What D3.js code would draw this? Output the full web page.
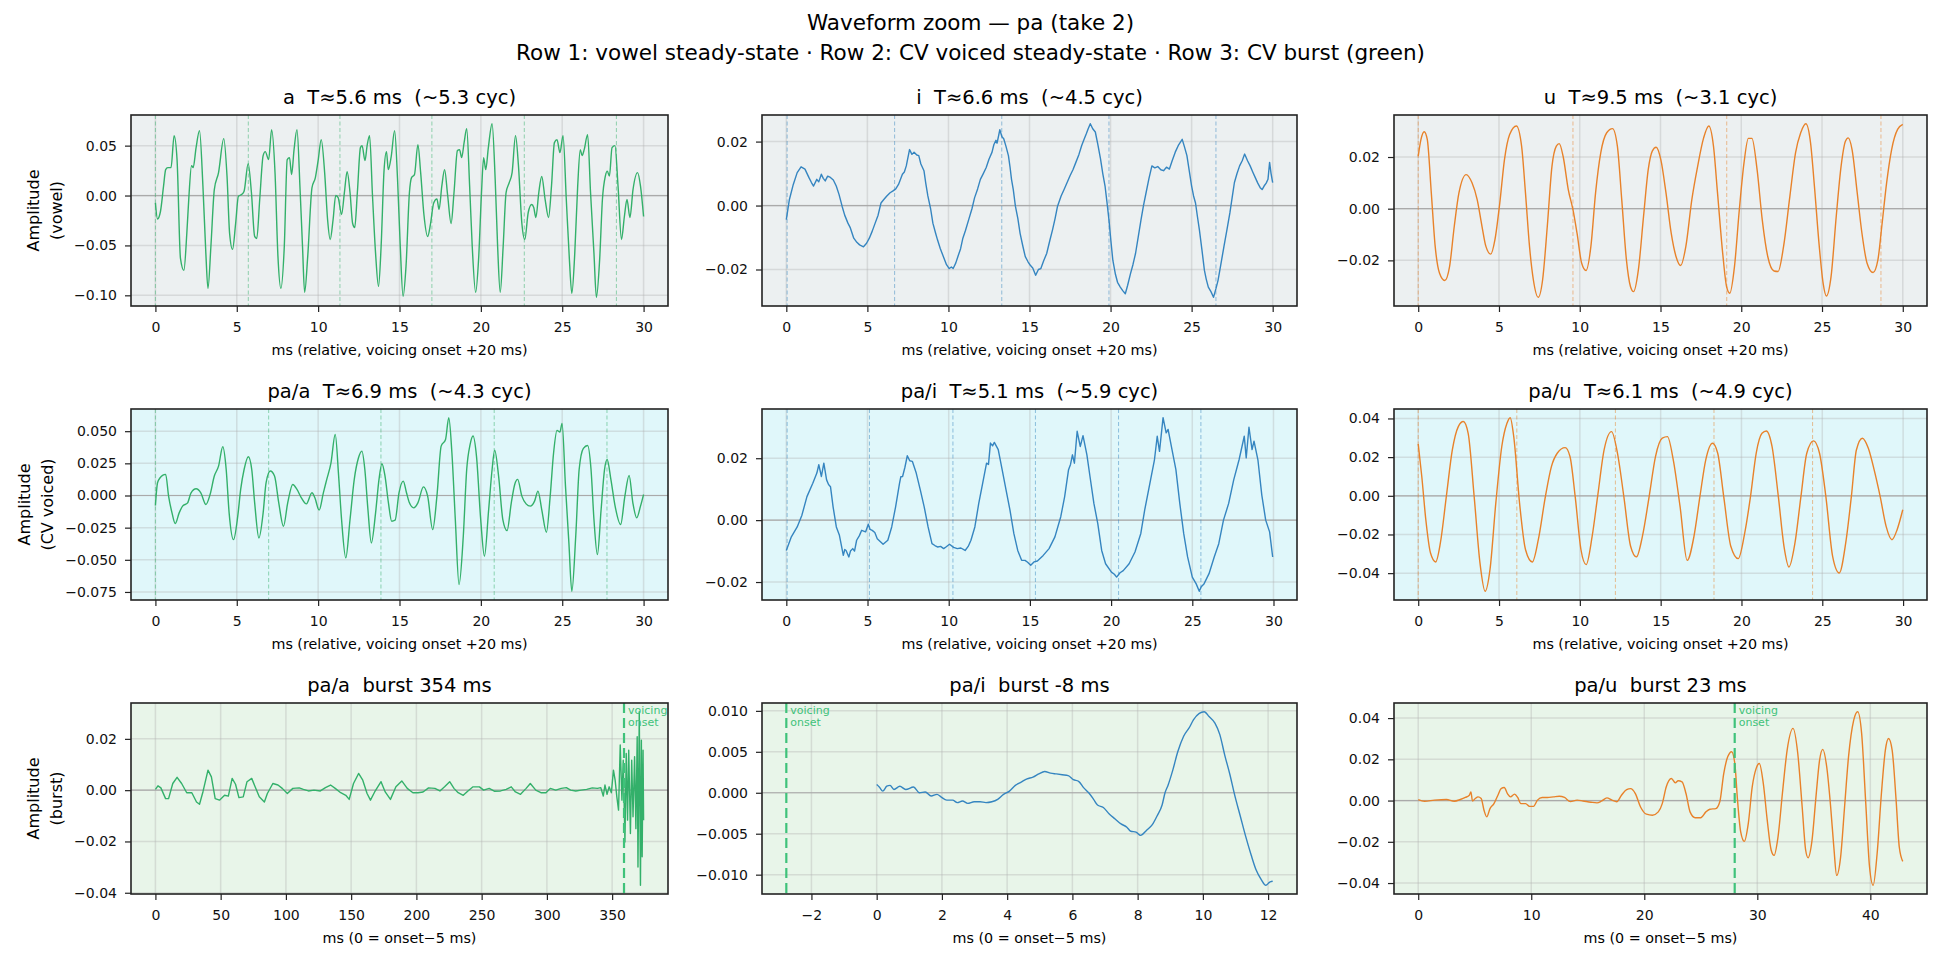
<!DOCTYPE html>
<html>
<head>
<meta charset="utf-8">
<script src="https://cdn.jsdelivr.net/npm/d3@7"></script>
<style>
  body { margin: 0; background: #fff; }
  svg { display: block; font-family: "DejaVu Sans", sans-serif; }
</style>
</head>
<body>
<svg id="chart" width="1941" height="962"></svg>
<script>
// Waveform samples: [ms, amplitude]
const waveA = [[0,-0.0074],[0.13,-0.0235],[0.31,-0.016],[0.5,0.0094],[0.63,0.026],[0.76,0.028],[0.96,0.028],[1.15,0.060],[1.33,0.036],[1.54,-0.063],[1.75,-0.075],[1.93,-0.038],[2.06,-0.0007],[2.22,0.030],[2.32,0.028],[2.5,0.048],[2.71,0.065],[2.92,0.0094],[3.1,-0.058],[3.23,-0.093],[3.41,-0.051],[3.62,0.006],[3.88,0.023],[4.2,0.057],[4.4,0.0195],[4.56,-0.038],[4.74,-0.054],[4.93,-0.028],[5.1,-0.0007],[5.3,0.001],[5.45,0.0044],[5.7,0.032],[5.9,0.003],[6.1,-0.041],[6.23,-0.043],[6.41,-0.004],[6.62,0.040],[6.75,0.044],[6.96,0.036],[7.14,0.066],[7.35,0.023],[7.53,-0.061],[7.71,-0.093],[7.92,-0.051],[8.1,0.036],[8.24,0.038],[8.37,0.021],[8.52,0.046],[8.7,0.066],[8.89,0.006],[9.04,-0.051],[9.17,-0.097],[9.36,-0.061],[9.62,0.0077],[9.83,0.018],[10.0,0.035],[10.19,0.056],[10.4,0.023],[10.58,-0.024],[10.74,-0.044],[10.92,-0.024],[11.08,0],[11.23,-0.002],[11.44,-0.019],[11.62,0.004],[11.78,0.024],[11.96,0.003],[12.12,-0.028],[12.25,-0.032],[12.41,0.003],[12.6,0.048],[12.7,0.050],[12.88,0.035],[13.01,0.050],[13.16,0.060],[13.34,0],[13.53,-0.058],[13.71,-0.091],[13.87,-0.051],[14.05,0.025],[14.2,0.044],[14.31,0.026],[14.49,0.039],[14.7,0.065],[14.88,0.016],[15.04,-0.048],[15.22,-0.101],[15.4,-0.071],[15.61,0.003],[15.74,0.018],[15.92,0.021],[16.13,0.051],[16.3,0.023],[16.5,-0.019],[16.73,-0.041],[16.9,-0.029],[17.1,-0.0074],[17.3,-0.0034],[17.43,-0.014],[17.6,0.0094],[17.77,0.026],[17.96,0],[18.17,-0.028],[18.35,0.003],[18.56,0.045],[18.69,0.046],[18.82,0.038],[18.97,0.053],[19.13,0.067],[19.31,0.0094],[19.47,-0.051],[19.68,-0.097],[19.86,-0.064],[20.04,0.003],[20.17,0.038],[20.3,0.026],[20.46,0.048],[20.69,0.072],[20.88,0.016],[21.03,-0.051],[21.19,-0.097],[21.37,-0.051],[21.55,0.003],[21.74,0.0128],[21.92,0.023],[22.13,0.060],[22.31,0.030],[22.52,-0.028],[22.7,-0.044],[22.91,-0.017],[23.12,-0.009],[23.25,-0.012],[23.38,-0.022],[23.56,0.003],[23.74,0.019],[23.95,-0.004],[24.16,-0.022],[24.34,0.0094],[24.52,0.053],[24.68,0.056],[24.86,0.043],[25.05,0.060],[25.25,-0.004],[25.44,-0.064],[25.59,-0.098],[25.77,-0.058],[25.95,0.0094],[26.11,0.046],[26.22,0.040],[26.35,0.046],[26.56,0.061],[26.74,0.003],[26.95,-0.058],[27.1,-0.102],[27.3,-0.064],[27.47,-0.004],[27.65,0.0195],[27.77,0.0245],[27.9,0.0195],[28.06,0.048],[28.24,0.050],[28.43,0.0094],[28.64,-0.044],[28.82,-0.021],[28.98,-0.004],[29.16,-0.022],[29.35,0.006],[29.63,0.023],[29.81,0.0094],[30.0,-0.021]];

const waveI = [[0,-0.0044],[0.19,0.0019],[0.43,0.0066],[0.67,0.0103],[0.91,0.0121],[1.15,0.0114],[1.39,0.0088],[1.55,0.0072],[1.68,0.0061],[1.88,0.0082],[2.0,0.0074],[2.16,0.0098],[2.28,0.0085],[2.4,0.0077],[2.55,0.0092],[2.72,0.0088],[2.9,0.0080],[3.08,0.0061],[3.25,0.0035],[3.44,-0.0002],[3.6,-0.0030],[3.8,-0.0055],[3.95,-0.0070],[4.16,-0.0102],[4.35,-0.0115],[4.52,-0.0123],[4.76,-0.0129],[4.95,-0.0118],[5.12,-0.0102],[5.3,-0.0080],[5.48,-0.0055],[5.66,-0.0030],[5.84,0.0008],[6.0,0.0018],[6.2,0.003],[6.4,0.0040],[6.56,0.0045],[6.75,0.0052],[6.92,0.0066],[7.16,0.0098],[7.28,0.0105],[7.4,0.0124],[7.6,0.0175],[7.75,0.0160],[7.88,0.0167],[8.05,0.0158],[8.17,0.0156],[8.3,0.0130],[8.49,0.0109],[8.6,0.0070],[8.73,0.003],[8.9,-0.0010],[9.04,-0.0055],[9.2,-0.0085],[9.33,-0.0108],[9.5,-0.0135],[9.69,-0.016],[9.88,-0.0185],[10.05,-0.0197],[10.18,-0.0192],[10.29,-0.0197],[10.45,-0.0180],[10.58,-0.016],[10.75,-0.0135],[10.89,-0.0102],[11.05,-0.0078],[11.25,-0.0044],[11.45,-0.0010],[11.61,0.0024],[11.8,0.0052],[11.97,0.0082],[12.15,0.0100],[12.33,0.0119],[12.5,0.0145],[12.69,0.0167],[12.8,0.0190],[12.93,0.0204],[13.0,0.0195],[13.17,0.0237],[13.3,0.0215],[13.41,0.0209],[13.55,0.0185],[13.7,0.0156],[13.8,0.0120],[13.89,0.0082],[14.0,0.0050],[14.13,-0.0002],[14.28,-0.0040],[14.42,-0.0087],[14.58,-0.0125],[14.74,-0.016],[14.9,-0.0175],[15.05,-0.0187],[15.2,-0.0195],[15.38,-0.0218],[15.55,-0.0200],[15.7,-0.0197],[15.88,-0.0172],[16.06,-0.015],[16.25,-0.0110],[16.42,-0.0076],[16.58,-0.0040],[16.73,-0.0002],[16.95,0.0030],[17.14,0.0051],[17.32,0.0072],[17.5,0.0093],[17.68,0.0112],[17.86,0.0135],[18.05,0.0160],[18.22,0.0188],[18.35,0.0205],[18.51,0.0225],[18.62,0.0240],[18.75,0.0256],[18.9,0.0240],[19.06,0.023],[19.22,0.0190],[19.38,0.0146],[19.52,0.0100],[19.66,0.0061],[19.78,0.0010],[19.9,-0.0044],[20.02,-0.0110],[20.14,-0.0171],[20.3,-0.0215],[20.43,-0.024],[20.6,-0.0255],[20.75,-0.0266],[20.91,-0.0276],[21.05,-0.0250],[21.23,-0.0213],[21.38,-0.0185],[21.54,-0.015],[21.7,-0.0100],[21.88,-0.0044],[22.03,0.0000],[22.19,0.004],[22.37,0.0085],[22.55,0.0124],[22.73,0.0118],[22.91,0.0122],[23.1,0.0112],[23.27,0.0109],[23.45,0.0120],[23.63,0.0114],[23.8,0.0140],[23.99,0.0167],[24.2,0.0190],[24.42,0.0207],[24.55,0.0185],[24.71,0.0156],[24.85,0.0110],[25.0,0.0061],[25.12,0.0030],[25.24,0.0008],[25.36,-0.0035],[25.48,-0.0076],[25.64,-0.0140],[25.79,-0.0203],[25.9,-0.0230],[26.03,-0.0255],[26.2,-0.0270],[26.35,-0.0287],[26.5,-0.0260],[26.63,-0.0234],[26.8,-0.0185],[26.99,-0.0129],[27.18,-0.0075],[27.36,-0.0023],[27.5,0.0025],[27.64,0.0072],[27.8,0.0100],[27.96,0.0124],[28.12,0.0140],[28.27,0.0161],[28.45,0.0140],[28.61,0.0124],[28.77,0.0105],[28.92,0.0088],[29.08,0.0070],[29.23,0.0056],[29.35,0.0050],[29.47,0.0061],[29.6,0.0070],[29.71,0.0082],[29.81,0.0135],[29.9,0.0100],[30.0,0.0072]];

const waveU = [[0,0.0203],[0.17,0.0268],[0.37,0.0298],[0.56,0.0268],[0.81,0.0061],[1.05,-0.0146],[1.32,-0.025],[1.64,-0.0278],[1.94,-0.0224],[2.23,-0.0069],[2.52,0.0061],[2.97,0.0132],[3.33,0.01],[3.65,0.0035],[3.95,-0.0069],[4.19,-0.0146],[4.49,-0.0176],[4.75,-0.012],[5.05,0.0022],[5.34,0.019],[5.66,0.0287],[6.08,0.032],[6.4,0.0242],[6.64,0.0061],[6.89,-0.0146],[7.13,-0.0276],[7.43,-0.0343],[7.7,-0.0276],[7.99,-0.0069],[8.28,0.0164],[8.55,0.0242],[8.73,0.0252],[8.97,0.0203],[9.29,0.0074],[9.58,-0.0004],[9.83,-0.0094],[10.12,-0.0211],[10.39,-0.0239],[10.69,-0.0146],[10.98,0.0061],[11.3,0.0216],[11.67,0.0294],[12.03,0.031],[12.33,0.0242],[12.6,0.0035],[12.89,-0.0198],[13.14,-0.0301],[13.33,-0.0321],[13.63,-0.0237],[13.95,-0.003],[14.24,0.0151],[14.49,0.0223],[14.73,0.0238],[15.02,0.019],[15.34,0.0061],[15.66,-0.0094],[15.96,-0.0185],[16.25,-0.022],[16.57,-0.0146],[16.94,0.0035],[17.3,0.0164],[17.67,0.0274],[17.99,0.032],[18.28,0.0242],[18.53,0.0061],[18.85,-0.0172],[19.09,-0.0301],[19.29,-0.0327],[19.58,-0.0224],[19.88,-0.0004],[20.17,0.0177],[20.44,0.0272],[20.66,0.0272],[20.98,0.0151],[21.3,-0.0043],[21.64,-0.0185],[22.03,-0.0241],[22.28,-0.0243],[22.62,-0.0146],[23.01,0.0048],[23.36,0.0216],[23.68,0.0294],[24.0,0.0329],[24.29,0.0255],[24.53,0.0087],[24.83,-0.0146],[25.07,-0.0289],[25.27,-0.0338],[25.56,-0.0263],[25.88,-0.003],[26.18,0.0164],[26.45,0.0261],[26.62,0.0274],[26.86,0.0229],[27.18,0.0061],[27.47,-0.0094],[27.79,-0.0211],[28.16,-0.0247],[28.46,-0.0198],[28.7,-0.0069],[29.0,0.01],[29.31,0.0229],[29.68,0.0307],[30.0,0.0326]];

const wavePaA = [[0,-0.0078],[0.13,0.0099],[0.29,0.0138],[0.44,0.0156],[0.63,0.0164],[0.81,-0.0005],[1.02,-0.0135],[1.22,-0.0218],[1.46,-0.0135],[1.67,-0.0083],[1.98,-0.0057],[2.19,0.0021],[2.5,0.0052],[2.79,0.0021],[3.1,-0.007],[3.36,0.0008],[3.62,0.0151],[3.88,0.0228],[4.14,0.0379],[4.35,0.0202],[4.53,-0.0135],[4.8,-0.0343],[5.06,-0.0161],[5.24,0.0047],[5.45,0.0202],[5.71,0.0301],[5.92,0.0202],[6.1,-0.0057],[6.36,-0.033],[6.62,-0.0135],[6.8,0.0099],[7.06,0.019],[7.32,0.0151],[7.58,-0.0057],[7.87,-0.0239],[8.13,-0.0057],[8.44,0.0086],[8.7,0.0047],[8.97,-0.0018],[9.28,-0.0065],[9.62,0.0021],[9.8,-0.0018],[10.06,-0.0114],[10.32,0.0021],[10.53,0.0125],[10.79,0.0254],[11.05,0.0475],[11.26,0.0151],[11.44,-0.0187],[11.7,-0.0485],[11.96,-0.0187],[12.22,0.0125],[12.48,0.0293],[12.69,0.0345],[12.87,0.0202],[13.06,-0.0109],[13.27,-0.0369],[13.53,-0.0135],[13.74,0.0125],[13.92,0.0247],[14.11,0.0151],[14.32,-0.0057],[14.52,-0.02],[14.73,-0.0192],[14.97,0.0021],[15.23,0.0112],[15.43,0.0021],[15.61,-0.0057],[15.87,-0.0096],[16.13,-0.0057],[16.47,0.0067],[16.73,-0.0005],[17.04,-0.0265],[17.3,-0.0005],[17.56,0.0384],[17.83,0.0436],[18.03,0.0605],[18.22,0.0332],[18.43,-0.0187],[18.66,-0.0693],[18.92,-0.0317],[19.13,0.0202],[19.34,0.0397],[19.52,0.0462],[19.73,0.0306],[19.99,-0.0187],[20.22,-0.0472],[20.48,-0.0109],[20.69,0.0202],[20.85,0.0353],[21.09,0.0151],[21.35,-0.0187],[21.61,-0.0273],[21.87,-0.0057],[22.08,0.0086],[22.26,0.0125],[22.52,-0.0005],[22.78,-0.0065],[23.04,-0.0083],[23.3,-0.0044],[23.51,0.0034],[23.74,-0.0109],[24.03,-0.0286],[24.26,-0.0005],[24.47,0.0332],[24.68,0.0506],[24.86,0.0493],[24.99,0.0561],[25.2,0.0073],[25.41,-0.0369],[25.59,-0.0745],[25.83,-0.0317],[26.04,0.0202],[26.3,0.0366],[26.56,0.0389],[26.77,0.0202],[26.95,-0.0187],[27.16,-0.046],[27.39,-0.0109],[27.6,0.0202],[27.76,0.028],[27.99,0.0125],[28.25,-0.0083],[28.59,-0.0226],[28.85,-0.0005],[29.11,0.0156],[29.34,-0.0057],[29.58,-0.0174],[29.81,-0.0083],[30.0,0.0008]];

const wavePaI = [[0,-0.0098],[0.31,-0.0054],[0.67,-0.0022],[0.96,0.0016],[1.27,0.0076],[1.63,0.0119],[1.88,0.0152],[2.0,0.0179],[2.16,0.0141],[2.31,0.0184],[2.48,0.013],[2.6,0.0115],[2.72,0.0108],[2.88,0.0043],[3.08,-0.0022],[3.27,-0.0049],[3.51,-0.0114],[3.6,-0.0095],[3.68,-0.0098],[3.85,-0.0119],[3.95,-0.0100],[4.09,-0.0092],[4.2,-0.0100],[4.33,-0.0065],[4.5,-0.0050],[4.64,-0.0033],[4.88,-0.0038],[5.05,-0.0013],[5.16,-0.0030],[5.29,-0.0033],[5.45,-0.0040],[5.6,-0.006],[5.96,-0.0078],[6.25,-0.0065],[6.49,-0.0022],[6.73,0.0043],[6.97,0.0119],[7.05,0.0140],[7.16,0.0141],[7.3,0.0170],[7.45,0.0208],[7.6,0.0192],[7.76,0.019],[8.0,0.0152],[8.25,0.0098],[8.49,0.0043],[8.73,-0.0022],[8.97,-0.0076],[9.15,-0.0082],[9.33,-0.0087],[9.5,-0.0085],[9.69,-0.0092],[9.85,-0.0086],[10.05,-0.0078],[10.3,-0.0088],[10.53,-0.0092],[10.75,-0.0090],[11.01,-0.0098],[11.2,-0.0085],[11.37,-0.0065],[11.61,-0.0022],[11.85,0.0054],[12.09,0.0119],[12.33,0.0184],[12.45,0.0180],[12.57,0.0249],[12.7,0.0240],[12.81,0.0251],[13.05,0.0228],[13.29,0.0163],[13.53,0.0098],[13.77,0.0033],[14.01,-0.0043],[14.25,-0.0098],[14.49,-0.013],[14.7,-0.0130],[14.86,-0.0136],[15.05,-0.0146],[15.25,-0.0135],[15.46,-0.0132],[15.82,-0.0114],[16.18,-0.0092],[16.54,-0.0054],[16.9,0.0011],[17.14,0.0076],[17.38,0.0163],[17.5,0.0180],[17.62,0.0211],[17.74,0.0184],[17.91,0.0287],[18.1,0.0238],[18.27,0.0273],[18.51,0.0211],[18.7,0.0141],[18.94,0.0054],[19.18,-0.0011],[19.42,-0.0098],[19.66,-0.0141],[20.02,-0.0168],[20.2,-0.0175],[20.34,-0.0184],[20.55,-0.0170],[20.75,-0.0163],[21.11,-0.0141],[21.47,-0.0103],[21.83,-0.0043],[22.07,0.0033],[22.43,0.013],[22.67,0.0195],[22.84,0.0271],[22.98,0.0222],[23.2,0.0331],[23.39,0.0282],[23.51,0.0293],[23.75,0.0228],[23.99,0.0163],[24.23,0.0054],[24.47,-0.0043],[24.71,-0.0119],[25.0,-0.0184],[25.24,-0.0206],[25.43,-0.023],[25.55,-0.0215],[25.72,-0.0206],[26.03,-0.0173],[26.35,-0.0119],[26.63,-0.0076],[26.92,0.0],[27.24,0.0054],[27.55,0.013],[27.88,0.0195],[28.2,0.0271],[28.32,0.0201],[28.49,0.03],[28.68,0.0228],[28.8,0.0255],[29.04,0.0195],[29.28,0.0081],[29.52,0.0],[29.76,-0.0038],[29.95,-0.0119]];

const wavePaU = [[0,0.0268],[0.22,0.01],[0.47,-0.0124],[0.76,-0.0296],[1.08,-0.0342],[1.37,-0.0244],[1.74,-0.0003],[2.11,0.0237],[2.48,0.0358],[2.79,0.0384],[3.09,0.0323],[3.46,-0.0003],[3.82,-0.0347],[4.14,-0.0494],[4.44,-0.0382],[4.8,-0.0038],[5.17,0.0255],[5.49,0.0375],[5.69,0.0404],[5.91,0.0306],[6.27,-0.0038],[6.64,-0.0279],[7.06,-0.0342],[7.43,-0.0227],[7.87,-0.0003],[8.24,0.0151],[8.6,0.022],[9.09,0.0249],[9.39,0.0203],[9.71,-0.0003],[10.07,-0.0279],[10.39,-0.0356],[10.76,-0.021],[11.1,-0.0003],[11.5,0.0237],[11.96,0.0332],[12.33,0.022],[12.72,-0.0003],[13.14,-0.0261],[13.5,-0.0316],[13.87,-0.021],[14.29,-0.0003],[14.68,0.0203],[15.1,0.0298],[15.42,0.0306],[15.78,0.0186],[16.2,-0.0055],[16.64,-0.0334],[17.06,-0.021],[17.43,-0.0003],[17.79,0.0186],[18.21,0.0272],[18.53,0.022],[18.9,-0.0003],[19.34,-0.0261],[19.8,-0.0325],[20.2,-0.0193],[20.56,-0.0003],[20.91,0.022],[21.27,0.0323],[21.54,0.0335],[21.89,0.0255],[22.28,-0.0003],[22.63,-0.0261],[22.94,-0.0368],[23.31,-0.0244],[23.68,-0.0003],[24.04,0.022],[24.46,0.0284],[24.83,0.022],[25.22,-0.0003],[25.64,-0.0313],[26.05,-0.0399],[26.45,-0.0244],[26.8,-0.0003],[27.11,0.0237],[27.48,0.0298],[27.85,0.0246],[28.21,0.0134],[28.58,-0.0003],[28.95,-0.0158],[29.31,-0.0227],[29.63,-0.0175],[29.98,-0.0072]];

const burstPaA = [[0,0.0003],[1.95,0.0017],[4.2,0.0009],[7.8,-0.0033],[10.1,-0.0033],[13.3,0.0026],[16.6,0.005],[20.1,0.0026],[24.0,-0.001],[27.9,-0.001],[31.5,-0.0046],[33.8,-0.0055],[36.4,-0.0007],[40.3,0.0078],[42.9,0.0052],[45.8,-0.0033],[49.1,-0.0039],[53.0,-0.002],[55.9,-0.0023],[58.8,0.0046],[61.4,0.0023],[64.0,-0.0029],[67.3,-0.0026],[70.2,0.0033],[73.8,0.0046],[76.4,0.0013],[79.6,-0.0026],[83.5,-0.0046],[85.8,-0.0013],[90.0,0.0026],[93.9,0.002],[97.2,0.0007],[101.1,-0.0013],[105.3,0.0007],[110.2,0.0009],[113.4,0.0003],[117.3,-0.0003],[121.5,0],[126.4,-0.0003],[130.3,0.001],[134.2,0.002],[137.8,0.0007],[142.0,-0.001],[145.9,-0.002],[148.5,-0.0036],[151.8,0.0026],[155.7,0.0065],[158.9,0.0039],[162.2,-0.0013],[164.8,-0.0039],[168.0,-0.0007],[172.9,0.0033],[176.1,-0.0007],[180.1,-0.0036],[184.3,0.0013],[188.8,0.0036],[193.0,0.0007],[197.3,-0.001],[201.2,-0.001],[205.1,-0.0007],[209.3,0.0009],[214.2,0.0007],[218.0,-0.0003],[221.6,0.0013],[225.5,0.0033],[228.8,0.0007],[232.0,-0.001],[235.9,-0.002],[239.5,-0.0003],[243.4,0.0013],[248.3,0.0013],[251.5,0],[255.8,0.0007],[259.7,-0.0004],[264.5,-0.0003],[268.8,0.0003],[272.7,0.0013],[275.9,-0.0007],[279.8,-0.0016],[284.1,0.0007],[287.3,0.0026],[291.5,0],[295.4,-0.001],[299.3,-0.001],[302.6,0.0007],[306.8,0],[311.0,0.0007],[314.9,0.001],[318.2,0],[322.1,-0.0003],[326.3,0],[330.5,0.0003],[334.8,0.0009],[338.7,0.0007],[341.3,0.001],[343.2,-0.0023],[344.5,0.002],[346.1,-0.0016],[347.7,0.0013],[349.4,-0.001],[351.0,0.0078],[352.3,0.0039],[353.6,-0.0026],[354.9,-0.0078],[356.2,0.0176],[357.5,-0.0039],[358.5,0.0117],[359.8,-0.0202],[360.8,0.0143],[361.8,-0.0117],[362.7,0.0156],[364.0,-0.0169],[365.0,0.0117],[366.0,-0.0104],[367.2,0.013],[368.2,-0.015],[369.2,0.0208],[369.8,-0.03],[370.8,0.0306],[371.7,-0.0371],[372.4,0.0195],[373.0,-0.026],[373.7,0.0156],[374.1,-0.0117]];

const burstPaI = [[0,0.001],[0.08,0.0007],[0.19,0.0002],[0.31,0.0008],[0.41,0.0009],[0.53,0.0004],[0.71,0.0008],[0.89,0.0004],[1.13,0.0007],[1.31,0.0],[1.49,0.0001],[1.67,-0.0004],[1.85,-0.0002],[1.97,-0.0005],[2.15,-0.0009],[2.33,-0.0009],[2.47,-0.0012],[2.63,-0.001],[2.79,-0.0013],[2.99,-0.0011],[3.17,-0.0011],[3.35,-0.0012],[3.53,-0.0011],[3.71,-0.0008],[3.89,-0.0002],[4.07,0.0002],[4.25,0.0009],[4.43,0.0013],[4.61,0.0017],[4.79,0.0019],[4.97,0.0023],[5.15,0.0026],[5.33,0.0024],[5.51,0.0023],[5.69,0.0022],[5.87,0.0021],[6.03,0.0016],[6.19,0.0014],[6.35,0.0006],[6.5,0.0],[6.65,-0.0008],[6.77,-0.0015],[6.95,-0.0018],[7.13,-0.0026],[7.31,-0.0032],[7.49,-0.0038],[7.67,-0.0042],[7.79,-0.0047],[7.95,-0.0048],[8.09,-0.0052],[8.27,-0.0046],[8.45,-0.0039],[8.6,-0.0028],[8.75,-0.0015],[8.84,0.0],[8.93,0.0009],[9.08,0.0028],[9.23,0.005],[9.41,0.0069],[9.59,0.008],[9.71,0.0089],[9.89,0.0097],[10.04,0.0099],[10.19,0.0093],[10.37,0.0085],[10.52,0.0071],[10.67,0.0046],[10.83,0.0022],[10.97,-0.0002],[11.15,-0.0029],[11.31,-0.0053],[11.48,-0.0076],[11.63,-0.0094],[11.79,-0.0106],[11.93,-0.0113],[12.05,-0.0109],[12.14,-0.0108]];

const burstPaU = [[0,0.0005],[0.56,-0.0003],[1.44,0.0002],[2.49,0.0005],[3.19,-0.0003],[3.72,0.0005],[4.17,0.0015],[4.52,0.0026],[4.66,0.0042],[4.8,-0.0002],[5.05,0.001],[5.29,0.0018],[5.57,0.001],[5.82,-0.0047],[6.06,-0.0079],[6.35,-0.0039],[6.7,-0.0015],[7.05,0.0026],[7.33,0.0058],[7.61,0.0063],[7.89,0.0034],[8.17,0.0018],[8.52,0.0031],[8.8,0.0015],[9.08,-0.0015],[9.5,-0.0015],[9.85,-0.0028],[10.2,-0.0028],[10.55,0.0002],[10.97,0.0015],[11.43,0.0015],[11.95,0.0018],[12.48,0.0021],[12.94,0.0015],[13.46,-0.0005],[14.06,0.0002],[14.58,-0.0002],[15.28,-0.0008],[15.81,-0.0011],[16.23,-0.0002],[16.69,0.0013],[17.14,0.0002],[17.56,-0.0006],[17.98,0.0026],[18.44,0.0053],[18.79,0.0058],[19.21,0.0034],[19.67,-0.0031],[20.19,-0.0066],[20.72,-0.0071],[21.24,-0.0055],[21.59,-0.0015],[21.94,0.0066],[22.4,0.0107],[22.75,0.0086],[23.0,0.0096],[23.34,0.0091],[23.69,0.0034],[24.05,-0.0055],[24.5,-0.0083],[24.99,-0.0083],[25.45,-0.0055],[25.8,-0.0042],[26.33,-0.0039],[26.68,-0.0006],[27.03,0.0131],[27.38,0.0212],[27.73,0.0237],[28.01,0.018],[28.25,0.0002],[28.53,-0.0152],[28.85,-0.0198],[29.2,-0.0112],[29.55,0.0066],[29.9,0.0156],[30.18,0.018],[30.53,0.0083],[30.88,-0.0096],[31.23,-0.0241],[31.48,-0.0266],[31.83,-0.0177],[32.22,0.0034],[32.64,0.0245],[33.16,0.035],[33.58,0.0228],[33.97,-0.0031],[34.28,-0.0241],[34.49,-0.0277],[34.84,-0.0193],[35.19,0.0018],[35.51,0.0196],[35.79,0.0248],[36.14,0.0164],[36.49,-0.0031],[36.77,-0.0225],[37.02,-0.0363],[37.37,-0.0274],[37.72,-0.0031],[38.07,0.0212],[38.53,0.039],[38.88,0.0431],[39.23,0.0326],[39.58,0.0002],[39.93,-0.0322],[40.25,-0.0411],[40.6,-0.0258],[40.98,0.0034],[41.33,0.0245],[41.61,0.0301],[41.93,0.0245],[42.28,0.0002],[42.56,-0.0225],[42.87,-0.0295]];

// Period marks (ms) and voicing onset positions
const marksA = [0, 5.71, 11.34, 16.99, 22.67, 28.33];
const marksI = [0.05, 6.68, 13.29, 19.9, 26.5];
const marksU = [0, 9.58, 19.1, 28.65];
const marksPaA = [0, 6.96, 13.86, 20.82, 27.75];
const marksPaI = [0.05, 5.12, 10.26, 15.34, 20.46, 25.53];
const marksPaU = [0, 6.1, 12.2, 18.3, 24.4];
const onsetPaA = 359.1, onsetPaI = -2.77, onsetPaU = 28.0;

// Tick values
const xTicks30 = [0, 5, 10, 15, 20, 25, 30];
const xTicksBurstA = [0, 50, 100, 150, 200, 250, 300, 350];
const xTicksBurstI = [-2, 0, 2, 4, 6, 8, 10, 12];
const xTicksBurstU = [0, 10, 20, 30, 40];
const yTicksA = [-0.10, -0.05, 0, 0.05];
const yTicksI = [-0.02, 0, 0.02];
const yTicksU = [-0.02, 0, 0.02];
const yTicksPaA = [-0.075, -0.050, -0.025, 0, 0.025, 0.050];
const yTicksPaI = [-0.02, 0, 0.02];
const yTicksPaU = [-0.04, -0.02, 0, 0.02, 0.04];
const yTicksBurstA = [-0.04, -0.02, 0, 0.02];
const yTicksBurstI = [-0.010, -0.005, 0, 0.005, 0.010];
const yTicksBurstU = [-0.04, -0.02, 0, 0.02, 0.04];

const GREEN = '#33b06a', BLUE = '#3585c0', ORANGE = '#e8822a', ONSET = '#3fc27a';
const rowBg = ['#ecf0f1', '#e0f7fa', '#e8f5e9'];
const rowYLabel = [['Amplitude', '(vowel)'], ['Amplitude', '(CV voiced)'], ['Amplitude', '(burst)']];
const xLabelSteady = 'ms (relative, voicing onset +20 ms)';
const xLabelBurst = 'ms (0 = onset\u22125 ms)';

const colLeft = [131, 762, 1394];
const colWidth = [537, 535, 533];
const rowTop = [115, 409, 703];
const panelH = 191;

const panels = [
  { row: 0, col: 0, title: 'a  T\u22485.6 ms  (~5.3 cyc)', data: waveA, color: GREEN, marks: marksA, xTicks: xTicks30, yTicks: yTicksA, yFmt: '.2f', xLabel: xLabelSteady, curve: d3.curveMonotoneX },
  { row: 0, col: 1, title: 'i  T\u22486.6 ms  (~4.5 cyc)', data: waveI, color: BLUE, marks: marksI, xTicks: xTicks30, yTicks: yTicksI, yFmt: '.2f', xLabel: xLabelSteady, curve: d3.curveLinear },
  { row: 0, col: 2, title: 'u  T\u22489.5 ms  (~3.1 cyc)', data: waveU, color: ORANGE, marks: marksU, xTicks: xTicks30, yTicks: yTicksU, yFmt: '.2f', xLabel: xLabelSteady, curve: d3.curveMonotoneX },
  { row: 1, col: 0, title: 'pa/a  T\u22486.9 ms  (~4.3 cyc)', data: wavePaA, color: GREEN, marks: marksPaA, xTicks: xTicks30, yTicks: yTicksPaA, yFmt: '.3f', xLabel: xLabelSteady, curve: d3.curveMonotoneX },
  { row: 1, col: 1, title: 'pa/i  T\u22485.1 ms  (~5.9 cyc)', data: wavePaI, color: BLUE, marks: marksPaI, xTicks: xTicks30, yTicks: yTicksPaI, yFmt: '.2f', xLabel: xLabelSteady, curve: d3.curveLinear },
  { row: 1, col: 2, title: 'pa/u  T\u22486.1 ms  (~4.9 cyc)', data: wavePaU, color: ORANGE, marks: marksPaU, xTicks: xTicks30, yTicks: yTicksPaU, yFmt: '.2f', xLabel: xLabelSteady, curve: d3.curveMonotoneX },
  { row: 2, col: 0, title: 'pa/a  burst 354 ms', data: burstPaA, color: GREEN, onset: onsetPaA, xTicks: xTicksBurstA, yTicks: yTicksBurstA, yFmt: '.2f', xLabel: xLabelBurst, curve: d3.curveLinear },
  { row: 2, col: 1, title: 'pa/i  burst -8 ms', data: burstPaI, color: BLUE, onset: onsetPaI, xTicks: xTicksBurstI, yTicks: yTicksBurstI, yFmt: '.3f', xLabel: xLabelBurst, curve: d3.curveMonotoneX },
  { row: 2, col: 2, title: 'pa/u  burst 23 ms', data: burstPaU, color: ORANGE, onset: onsetPaU, xTicks: xTicksBurstU, yTicks: yTicksBurstU, yFmt: '.2f', xLabel: xLabelBurst, curve: d3.curveMonotoneX }
];

const svg = d3.select('#chart');

// Figure title
svg.append('text')
  .attr('x', 970.5).attr('y', 30)
  .attr('text-anchor', 'middle')
  .attr('font-size', 21.5)
  .text('Waveform zoom \u2014 pa (take 2)');
svg.append('text')
  .attr('x', 970.5).attr('y', 59.5)
  .attr('text-anchor', 'middle')
  .attr('font-size', 21.5)
  .text('Row 1: vowel steady-state \u00b7 Row 2: CV voiced steady-state \u00b7 Row 3: CV burst (green)');

panels.forEach(drawPanel);

function drawPanel(p) {
  const left = colLeft[p.col], top = rowTop[p.row];
  const w = colWidth[p.col], h = panelH;
  const g = svg.append('g').attr('transform', `translate(${left},${top})`);

  // autoscale with 5% margins, like the original plot
  const xVals = p.data.map(d => d[0]);
  if (p.onset != null) xVals.push(p.onset);
  const [x0, x1] = d3.extent(xVals);
  const xm = (x1 - x0) * 0.05;
  const x = d3.scaleLinear().domain([x0 - xm, x1 + xm]).range([0, w]);
  const [y0, y1] = d3.extent(p.data, d => d[1]);
  const ym = (y1 - y0) * 0.05;
  const y = d3.scaleLinear().domain([y0 - ym, y1 + ym]).range([h, 0]);

  g.append('rect').attr('width', w).attr('height', h).attr('fill', rowBg[p.row]);

  const clipId = `clip-${p.row}-${p.col}`;
  g.append('clipPath').attr('id', clipId)
    .append('rect').attr('width', w).attr('height', h);
  const inner = g.append('g').attr('clip-path', `url(#${clipId})`);

  // grid
  inner.append('g').selectAll('line')
    .data(p.xTicks).join('line')
    .attr('x1', d => x(d)).attr('x2', d => x(d))
    .attr('y1', 0).attr('y2', h)
    .attr('stroke', '#b0b0b0').attr('stroke-opacity', 0.35).attr('stroke-width', 1.5);
  inner.append('g').selectAll('line')
    .data(p.yTicks).join('line')
    .attr('x1', 0).attr('x2', w)
    .attr('y1', d => y(d)).attr('y2', d => y(d))
    .attr('stroke', '#b0b0b0').attr('stroke-opacity', 0.35).attr('stroke-width', 1.5);

  // zero line
  inner.append('line')
    .attr('x1', 0).attr('x2', w)
    .attr('y1', y(0)).attr('y2', y(0))
    .attr('stroke', '#aaaaaa').attr('stroke-width', 1.2);

  // period marks
  if (p.marks) {
    inner.append('g').selectAll('line')
      .data(p.marks).join('line')
      .attr('x1', d => x(d)).attr('x2', d => x(d))
      .attr('y1', 0).attr('y2', h)
      .attr('stroke', p.color).attr('stroke-opacity', 0.5)
      .attr('stroke-width', 1).attr('stroke-dasharray', '4,2.5');
  }

  // waveform
  const line = d3.line().x(d => x(d[0])).y(d => y(d[1])).curve(p.curve);
  inner.append('path')
    .datum(p.data)
    .attr('d', line)
    .attr('fill', 'none')
    .attr('stroke', p.color)
    .attr('stroke-width', 1.4)
    .attr('stroke-linejoin', 'round');

  // voicing onset marker
  if (p.onset != null) {
    inner.append('line')
      .attr('x1', x(p.onset)).attr('x2', x(p.onset))
      .attr('y1', 0).attr('y2', h)
      .attr('stroke', ONSET).attr('stroke-width', 2.2)
      .attr('stroke-dasharray', '10,5');
    const t = g.append('text')
      .attr('x', x(p.onset) + 4).attr('y', 11)
      .attr('font-size', 11).attr('fill', ONSET);
    t.append('tspan').attr('x', x(p.onset) + 4).text('voicing');
    t.append('tspan').attr('x', x(p.onset) + 4).attr('dy', 11.5).text('onset');
  }

  // axes
  const fmtX = d3.format('d');
  const xAxis = g.append('g')
    .attr('transform', `translate(0,${h})`)
    .call(d3.axisBottom(x).tickValues(p.xTicks).tickFormat(fmtX).tickSize(6).tickPadding(10));
  const yAxis = g.append('g')
    .call(d3.axisLeft(y).tickValues(p.yTicks).tickFormat(d3.format(p.yFmt)).tickSize(6).tickPadding(8));
  [xAxis, yAxis].forEach(a => {
    a.select('.domain').remove();
    a.selectAll('line').attr('stroke', '#222').attr('stroke-width', 1.2);
    a.selectAll('text').attr('font-size', 14).attr('fill', '#111')
      .attr('font-family', '"DejaVu Sans", sans-serif');
  });

  // spines
  g.append('rect').attr('width', w).attr('height', h)
    .attr('fill', 'none').attr('stroke', '#222').attr('stroke-width', 1.6);

  // panel title
  g.append('text')
    .attr('x', w / 2).attr('y', -11.5)
    .attr('text-anchor', 'middle')
    .attr('font-size', 19.5)
    .style('white-space', 'pre')
    .text(p.title);

  // x label
  g.append('text')
    .attr('x', w / 2).attr('y', h + 48.5)
    .attr('text-anchor', 'middle')
    .attr('font-size', 14.3)
    .text(p.xLabel);

  // y label on first column
  if (p.col === 0) {
    let maxW = 0;
    yAxis.selectAll('text').each(function() {
      maxW = Math.max(maxW, this.getComputedTextLength());
    });
    const right = -(6 + 8) - maxW - 8;
    const lines = rowYLabel[p.row];
    const base2 = right - 4;
    const base1 = base2 - 23.5;
    [base1, base2].forEach((bx, i) => {
      g.append('text')
        .attr('transform', `translate(${bx},${h / 2}) rotate(-90)`)
        .attr('text-anchor', 'middle')
        .attr('font-size', 16)
        .text(lines[i]);
    });
  }
}
</script>
</body>
</html>
